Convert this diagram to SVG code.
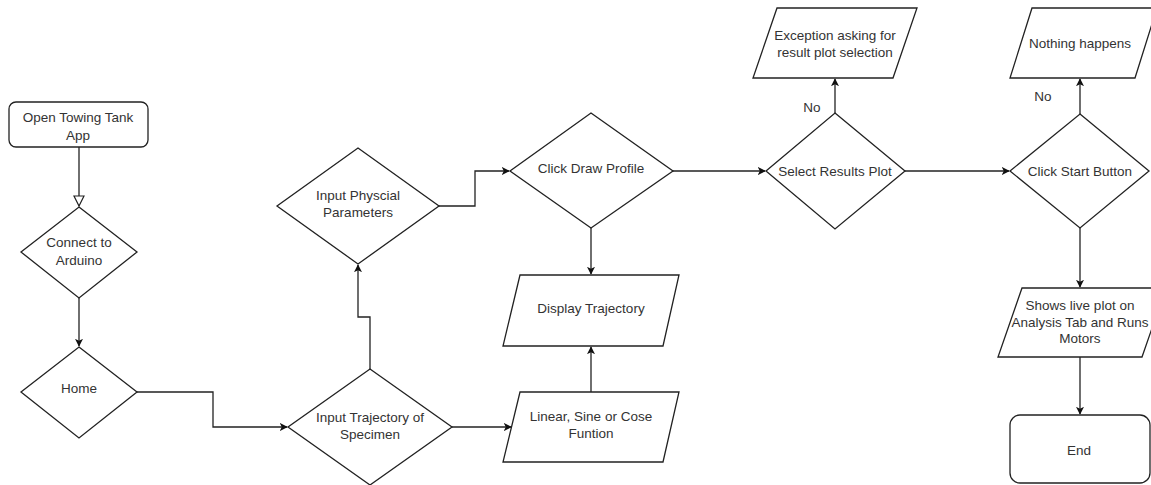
<svg xmlns="http://www.w3.org/2000/svg" width="1151" height="485" viewBox="0 0 1151 485">
<defs>
<style>
.shape{fill:#fff;stroke:#222;stroke-width:1.3}
.edge{fill:none;stroke:#222;stroke-width:1.3}
text{font-family:"Liberation Sans",Arial,sans-serif;font-size:13.5px;fill:#333;text-anchor:middle}
</style>
<marker id="arr" viewBox="0 0 10 10" refX="9" refY="5" markerWidth="8" markerHeight="8" markerUnits="userSpaceOnUse" orient="auto">
<path d="M0,0 L10,5 L0,10 L2.5,5 Z" fill="#111"/>
</marker>
<marker id="hollow" viewBox="0 0 12 12" refX="11" refY="6" markerWidth="12" markerHeight="12" markerUnits="userSpaceOnUse" orient="auto">
<path d="M1,1 L11,6 L1,11 Z" fill="#fff" stroke="#222" stroke-width="1.2"/>
</marker>
</defs>
<rect width="1151" height="485" fill="#fff"/>
<g id="connectors">
<path class="edge" d="M79,147 V206" marker-end="url(#hollow)"/>
<path class="edge" d="M79,298 V346" marker-end="url(#arr)"/>
<path class="edge" d="M137,392 H213 V427 H287" marker-end="url(#arr)"/>
<path class="edge" d="M370,369 V317 H358 V265" marker-end="url(#arr)"/>
<path class="edge" d="M439,206 H475 V171 H509" marker-end="url(#arr)"/>
<path class="edge" d="M452,427 H511" marker-end="url(#arr)"/>
<path class="edge" d="M591,392 V347" marker-end="url(#arr)"/>
<path class="edge" d="M591,228 V274" marker-end="url(#arr)"/>
<path class="edge" d="M673,171 H765" marker-end="url(#arr)"/>
<path class="edge" d="M835,113 V79" marker-end="url(#arr)"/>
<text x="812" y="112">No</text>
<path class="edge" d="M905,171 H1009" marker-end="url(#arr)"/>
<path class="edge" d="M1080,114 V79" marker-end="url(#arr)"/>
<text x="1043" y="101">No</text>
<path class="edge" d="M1080,228 V287" marker-end="url(#arr)"/>
<path class="edge" d="M1080,357 V414" marker-end="url(#arr)"/>
</g>
<g id="open">
<rect class="shape" x="9" y="102" width="139" height="45" rx="7"/>
<text x="78" y="122">Open Towing Tank</text>
<text x="78" y="140">App</text>
</g>
<g id="connect">
<polygon class="shape" points="79,207 137,252 79,298 21,252"/>
<text x="79" y="247">Connect to</text>
<text x="79" y="265">Arduino</text>
</g>
<g id="home">
<polygon class="shape" points="79,347 137,392 79,438 21,392"/>
<text x="79" y="393">Home</text>
</g>
<g id="physical">
<polygon class="shape" points="358,148 439,206 358,264 277,206"/>
<text x="358" y="200">Input Physcial</text>
<text x="358" y="217">Parameters</text>
</g>
<g id="trajectory">
<polygon class="shape" points="370,369 452,427 370,485 288,427"/>
<text x="370" y="422">Input Trajectory of</text>
<text x="370" y="439">Specimen</text>
</g>
<g id="drawprofile">
<polygon class="shape" points="591,113 673,171 591,228 510,171"/>
<text x="591" y="173">Click Draw Profile</text>
</g>
<g id="display">
<polygon class="shape" points="520,275 679,275 663,346 503,346"/>
<text x="591" y="313">Display Trajectory</text>
</g>
<g id="linear">
<polygon class="shape" points="520,392 679,392 663,462 503,462"/>
<text x="591" y="421">Linear, Sine or Cose</text>
<text x="591" y="438">Funtion</text>
</g>
<g id="select">
<polygon class="shape" points="835,113 905,171 835,229 766,171"/>
<text x="835" y="176">Select Results Plot</text>
</g>
<g id="exception">
<polygon class="shape" points="777,8 917,8 893,78 753,78"/>
<text x="835" y="40">Exception asking for</text>
<text x="835" y="57">result plot selection</text>
</g>
<g id="start">
<polygon class="shape" points="1080,114 1149,171 1080,228 1010,171"/>
<text x="1080" y="176">Click Start Button</text>
</g>
<g id="nothing">
<polygon class="shape" points="1032,8 1157,8 1135,78 1010,78"/>
<text x="1080" y="48">Nothing happens</text>
</g>
<g id="shows">
<polygon class="shape" points="1022,288 1166,288 1142,357 998,357"/>
<text x="1080" y="310">Shows live plot on</text>
<text x="1080" y="327">Analysis Tab and Runs</text>
<text x="1080" y="343">Motors</text>
</g>
<g id="end">
<rect class="shape" x="1010" y="415" width="140" height="68" rx="10"/>
<text x="1079" y="455">End</text>
</g>
</svg>
